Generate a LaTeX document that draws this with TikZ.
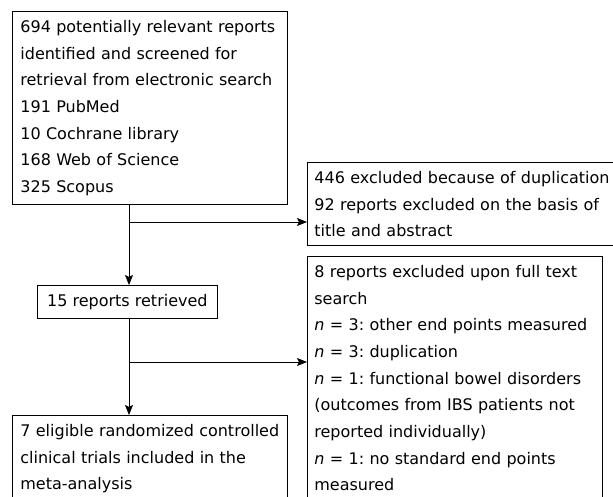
\documentclass[tikz,border=0pt]{standalone}
\usepackage{fontspec}
\setmainfont{DejaVu Sans}
\usetikzlibrary{arrows.meta}
\frenchspacing
\begin{document}
\begin{tikzpicture}[x=1pt,y=-1pt,
  box/.style={draw, line width=0.8pt, align=left, anchor=north west,
    font=\fontsize{16}{26.7}\selectfont\frenchspacing, inner xsep=8pt, inner ysep=8.8pt},
  arr/.style={line width=0.8pt, -{Stealth[length=10pt,width=8pt,inset=2pt]}}]
\useasboundingbox (0,0) rectangle (613,497);
\clip (0,0) rectangle (613,497);
\node[box, text width=259pt] (b1) at (12,11) {694 potentially relevant reports\\identified and screened for\\retrieval from electronic search\\191 PubMed\\10 Cochrane library\\168 Web of Science\\325 Scopus};
\node[box, text width=310pt, inner xsep=7pt] (b2) at (307,162) {446 excluded because of duplication\\92 reports excluded on the basis of\\title and abstract};
\node[box, align=center, inner xsep=0pt, minimum width=180pt] (b15) at (37,285) {15 reports retrieved};
\node[box, text width=281pt, inner xsep=7pt] (b3) at (307,256) {8 reports excluded upon full text\\search\\\textit{n} = 3: other end points measured\\\textit{n} = 3: duplication\\\textit{n} = 1: functional bowel disorders\\(outcomes from IBS patients not\\reported individually)\\\textit{n} = 1: no standard end points\\measured};
\node[box, text width=259pt] (b4) at (12,415) {7 eligible randomized controlled\\clinical trials included in the\\meta-analysis};
\coordinate (s1) at (129,222);
\coordinate (s2) at (129,362);
\draw[arr] (b1.south -| s1) -- (b15.north -| s1);
\draw[arr] (s1) -- (s1 -| b2.west);
\draw[arr] (b15.south -| s2) -- (b4.north -| s2);
\draw[arr] (s2) -- (s2 -| b3.west);
\end{tikzpicture}
\end{document}
